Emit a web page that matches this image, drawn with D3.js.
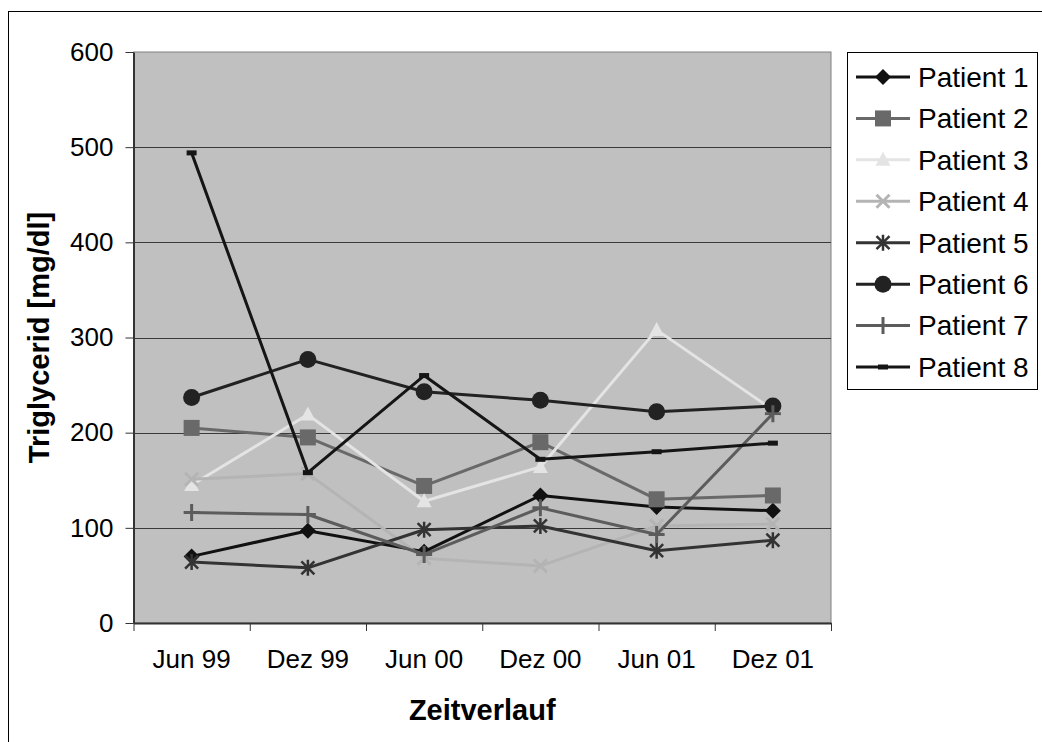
<!DOCTYPE html>
<html>
<head>
<meta charset="utf-8">
<script src="https://cdn.jsdelivr.net/npm/d3@7"></script>
<style>
  body { margin: 0; background: #fff; }
  svg { display: block; font-family: "Liberation Sans", Arial, sans-serif; }
</style>
</head>
<body>
<div id="graph"></div>
<script>
// data
const categories = ["Jun 99", "Dez 99", "Jun 00", "Dez 00", "Jun 01", "Dez 01"];
const yTicks = [0, 100, 200, 300, 400, 500, 600];
const seriesNames = ["Patient 1", "Patient 2", "Patient 3", "Patient 4", "Patient 5", "Patient 6", "Patient 7", "Patient 8"];
const patient1 = [70, 97, 75, 134, 122, 118];
const patient2 = [205, 195, 144, 190, 130, 134];
const patient3 = [145, 219, 128, 164, 308, 224];
const patient4 = [151, 157, 68, 60, 102, 104];
const patient5 = [64, 58, 98, 102, 76, 87];
const patient6 = [237, 277, 243, 234, 222, 228];
const patient7 = [116, 114, 72, 121, 93, 220];
const patient8 = [494, 158, 260, 172, 180, 189];

const values = [patient1, patient2, patient3, patient4, patient5, patient6, patient7, patient8];
const colors = ["#111", "#696969", "#e4e4e4", "#b4b4b4", "#333", "#222", "#5c5c5c", "#151515"];
const markers = ["diamond", "square", "triangle", "x", "star", "circle", "plus", "dash"];

const W = 1042, H = 742;
const plot = { left: 133.5, right: 831, top: 52, bottom: 623 };

const svg = d3.select("#graph").append("svg").attr("width", W).attr("height", H);

// outer chart frame (right and bottom edges fall outside the picture)
svg.append("rect")
  .attr("x", 8.5).attr("y", 11.5)
  .attr("width", 1060).attr("height", 760)
  .attr("fill", "#fff").attr("stroke", "#000").attr("stroke-width", 1);

const x = d3.scaleBand().domain(categories).range([plot.left, plot.right]);
const xEdge = d3.scaleLinear().domain([0, categories.length]).range([plot.left, plot.right]);
const y = d3.scaleLinear().domain([0, 600]).range([plot.bottom, plot.top]);
const cx = (c) => x(c) + x.bandwidth() / 2;

// plot area
svg.append("rect")
  .attr("x", plot.left).attr("y", plot.top)
  .attr("width", plot.right - plot.left).attr("height", plot.bottom - plot.top)
  .attr("fill", "#c0c0c0").attr("stroke", "#808080").attr("stroke-width", 1);

// gridlines
svg.append("g")
  .selectAll("line")
  .data(yTicks.filter((d) => d > 0 && d < 600))
  .enter()
  .append("line")
  .attr("x1", plot.left).attr("x2", plot.right)
  .attr("y1", (d) => Math.round(y(d)) + 0.5).attr("y2", (d) => Math.round(y(d)) + 0.5)
  .attr("stroke", "#3a3a3a").attr("stroke-width", 1);

// y axis
const yAxis = svg.append("g")
  .attr("transform", `translate(${plot.left},0)`)
  .call(d3.axisLeft(y).tickValues(yTicks).tickSize(8).tickPadding(12).tickSizeOuter(0));
yAxis.select(".domain").attr("stroke", "#333").attr("stroke-width", 2);
yAxis.selectAll(".tick line").attr("stroke", "#333");
yAxis.selectAll("text").attr("font-size", 26).attr("fill", "#000");

// x axis: ticks on category edges, labels in the middle
const xTickAxis = svg.append("g")
  .attr("transform", `translate(0,${plot.bottom})`)
  .call(d3.axisBottom(xEdge).tickValues(d3.range(categories.length + 1)).tickFormat("").tickSize(8).tickSizeOuter(0));
xTickAxis.select(".domain").attr("stroke", "#333").attr("stroke-width", 2);
xTickAxis.selectAll(".tick line").attr("stroke", "#333");

const xLabelAxis = svg.append("g")
  .attr("transform", `translate(0,${plot.bottom})`)
  .call(d3.axisBottom(x).tickSize(0).tickPadding(27));
xLabelAxis.select(".domain").remove();
xLabelAxis.selectAll("text").attr("font-size", 26).attr("fill", "#000");

// axis titles
svg.append("text")
  .attr("transform", `translate(49,${(plot.top + plot.bottom) / 2}) rotate(-90)`)
  .attr("text-anchor", "middle")
  .attr("font-size", 29).attr("font-weight", "bold")
  .text("Triglycerid [mg/dl]");

svg.append("text")
  .attr("x", (plot.left + plot.right) / 2).attr("y", 720)
  .attr("text-anchor", "middle")
  .attr("font-size", 29).attr("font-weight", "bold")
  .text("Zeitverlauf");

// marker shapes
const drawMarker = (g, type, color) => {
  if (type === "diamond") {
    g.append("path").attr("d", "M0,-8L8,0L0,8L-8,0Z").attr("fill", color);
  } else if (type === "square") {
    g.append("rect").attr("x", -8).attr("y", -8).attr("width", 16).attr("height", 16).attr("fill", color);
  } else if (type === "triangle") {
    g.append("path").attr("d", "M0,-8L7.5,6L-7.5,6Z").attr("fill", color);
  } else if (type === "x") {
    g.append("path").attr("d", "M-6.5,-6.5L6.5,6.5M-6.5,6.5L6.5,-6.5").attr("stroke", color).attr("stroke-width", 3);
  } else if (type === "star") {
    g.append("path").attr("d", "M-6.5,-6.5L6.5,6.5M-6.5,6.5L6.5,-6.5M0,-8L0,8").attr("stroke", color).attr("stroke-width", 2.5);
  } else if (type === "circle") {
    g.append("circle").attr("r", 8.5).attr("fill", color);
  } else if (type === "plus") {
    g.append("path").attr("d", "M-8,0L8,0M0,-8.5L0,8.5").attr("stroke", color).attr("stroke-width", 3);
  } else if (type === "dash") {
    g.append("rect").attr("x", -5).attr("y", -2.5).attr("width", 10).attr("height", 5).attr("fill", color);
  }
};

// series
const line = d3.line().x((d, i) => cx(categories[i])).y((d) => y(d));
values.forEach((vals, s) => {
  const g = svg.append("g").attr("class", "series");
  g.append("path")
    .attr("d", line(vals))
    .attr("fill", "none")
    .attr("stroke", colors[s])
    .attr("stroke-width", 3)
    .attr("stroke-linejoin", "round");
  g.selectAll("g.pt")
    .data(vals)
    .enter()
    .append("g")
    .attr("class", "pt")
    .attr("transform", (d, i) => `translate(${cx(categories[i])},${y(d)})`)
    .each(function () { drawMarker(d3.select(this), markers[s], colors[s]); });
});

// legend
const legend = svg.append("g").attr("id", "legend");
legend.append("rect")
  .attr("x", 847.5).attr("y", 52.5)
  .attr("width", 190).attr("height", 337)
  .attr("fill", "#fff").attr("stroke", "#000").attr("stroke-width", 1);
const rowY = d3.scalePoint().domain(seriesNames).range([77, 367]);
seriesNames.forEach((name, s) => {
  const row = legend.append("g").attr("transform", `translate(0,${rowY(name)})`);
  row.append("line").attr("x1", 856).attr("x2", 910).attr("y1", 0).attr("y2", 0)
    .attr("stroke", colors[s]).attr("stroke-width", 3);
  drawMarker(row.append("g").attr("transform", "translate(883,0)"), markers[s], colors[s]);
  row.append("text").attr("x", 918).attr("y", 0).attr("dy", "0.35em")
    .attr("font-size", 28).attr("fill", "#000").text(name);
});
</script>
</body>
</html>
